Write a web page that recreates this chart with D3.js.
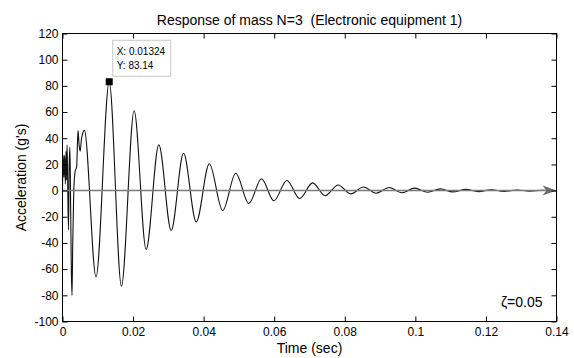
<!DOCTYPE html>
<html>
<head>
<meta charset="utf-8">
<script src="https://cdn.jsdelivr.net/npm/d3@7"></script>
<style>
  body { margin: 0; background: #fff; }
  text { font-family: "Liberation Sans", Arial, sans-serif; }
</style>
</head>
<body>
<div id="chart"></div>
<script>
// Données : instants (s) et accélération (g)
const time = [0, 0.0002, 0.0004, 0.0006, 0.0008, 0.0010, 0.0011, 0.0013, 0.0015, 0.0017,
  0.0019, 0.0021, 0.0023, 0.0025, 0.0027, 0.0029, 0.0032, 0.0036, 0.0040, 0.0044,
  0.0047, 0.0050, 0.0054, 0.0062, 0.0095, 0.01324, 0.0167, 0.0203, 0.0237, 0.0273,
  0.0308, 0.0343, 0.0379, 0.0416, 0.0454, 0.0491, 0.0528, 0.0564, 0.0599, 0.0636,
  0.0672, 0.0709, 0.0744, 0.0781, 0.0817, 0.0853, 0.0889, 0.0926, 0.0962, 0.0998,
  0.1035, 0.1071, 0.1106, 0.1143, 0.1179, 0.1215, 0.1251, 0.1288, 0.1324, 0.1360, 0.1400];
const accel = [0, 27, 10, 27, 5, 30, 8, 35, 0, -30,
  20, 33, -10, -60, -80, -40, 0, 15, 18, 46,
  35, 30, 40, 46, -66, 83.14, -73, 61, -45, 35,
  -30.5, 28.5, -24, 20.5, -15.3, 13.2, -9.8, 9, -7.8, 7.7,
  -6, 5.9, -3.9, 4.3, -2.5, 2.7, -2, 2.4, -1.7, 1.9,
  -1.3, 1.3, -1.0, 0.9, -0.8, 0.7, -0.6, 0.5, -0.4, 0.3, 0];

const xTicks = [0, 0.02, 0.04, 0.06, 0.08, 0.1, 0.12, 0.14];
const xTickLabels = ["0", "0.02", "0.04", "0.06", "0.08", "0.1", "0.12", "0.14"];
const yTicks = [-100, -80, -60, -40, -20, 0, 20, 40, 60, 80, 100, 120];

const dataTip = {t: 0.01324, v: 83.14};
const titleText = "Response of mass N=3  (Electronic equipment 1)";
const dampingText = "\u03B6=0.05";

const width = 574, height = 358;
const margin = ({top: 33.5, right: 17.5, bottom: 36.5, left: 62.5});

const svg = d3.select("#chart").append("svg")
    .attr("width", width)
    .attr("height", height);

const x = d3.scaleLinear()
    .domain([0, 0.14])
    .range([margin.left, width - margin.right]);

const y = d3.scaleLinear()
    .domain([-100, 120])
    .range([height - margin.bottom, margin.top]);

const data = time.map((t, i) => ({t: t, v: accel[i]}));

//Courbe de réponse
const line = d3.line()
    .x(d => x(d.t))
    .y(d => y(d.v))
    .curve(d3.curveMonotoneX);

svg.append("path")
    .datum(data)
    .attr("d", line)
    .attr("fill", "none")
    .attr("stroke", "#111")
    .attr("stroke-width", 1.1);

//Flèche grise sur l'axe zéro
const x0 = x(0), x1 = x(0.14), y0 = y(0);
svg.append("line")
    .attr("x1", x0).attr("x2", x1 - 8)
    .attr("y1", y0).attr("y2", y0)
    .attr("stroke", "#7a7a7a")
    .attr("stroke-width", 1.5);
svg.append("path")
    .attr("d", `M${x1},${y0} L${x1 - 14},${y0 - 5} L${x1 - 10},${y0} L${x1 - 14},${y0 + 5} Z`)
    .attr("fill", "#6a6a6a");

//Axes (graduations vers l'intérieur, style MATLAB)
svg.append("g")
    .attr("transform", `translate(0,${y(-100)})`)
    .call(d3.axisBottom(x).tickValues(xTicks).tickFormat((d, i) => xTickLabels[i])
      .tickSize(-5).tickPadding(6))
    .call(g => g.select(".domain").remove());

svg.append("g")
    .attr("transform", `translate(0,${y(120)})`)
    .call(d3.axisTop(x).tickValues(xTicks).tickFormat("").tickSize(-5))
    .call(g => g.select(".domain").remove());

svg.append("g")
    .attr("transform", `translate(${x(0)},0)`)
    .call(d3.axisLeft(y).tickValues(yTicks).tickFormat(d => String(d))
      .tickSize(-5).tickPadding(4))
    .call(g => g.select(".domain").remove());

svg.append("g")
    .attr("transform", `translate(${x(0.14)},0)`)
    .call(d3.axisRight(y).tickValues(yTicks).tickFormat("").tickSize(-5))
    .call(g => g.select(".domain").remove());

svg.selectAll(".tick text")
    .style("font-size", "12px")
    .attr("fill", "#000");
svg.selectAll(".tick line").attr("stroke", "#000");

//Cadre
svg.append("rect")
    .attr("x", x(0)).attr("y", y(120))
    .attr("width", x(0.14) - x(0))
    .attr("height", y(-100) - y(120))
    .attr("fill", "none")
    .attr("stroke", "#000")
    .attr("stroke-width", 1);

//Data tip
svg.append("rect")
    .attr("x", x(dataTip.t) - 3.5)
    .attr("y", y(dataTip.v) - 3.5)
    .attr("width", 7).attr("height", 7)
    .attr("fill", "#000");

const tipX = x(dataTip.t) + 3.5, tipY = y(dataTip.v) - 41.5;
svg.append("rect")
    .attr("x", tipX).attr("y", tipY)
    .attr("width", 58).attr("height", 36)
    .attr("fill", "#fff")
    .attr("stroke", "#c8c8c8");
svg.append("text")
    .attr("x", tipX + 4).attr("y", tipY + 15)
    .style("font-size", "10px")
    .text("X: " + dataTip.t);
svg.append("text")
    .attr("x", tipX + 4).attr("y", tipY + 29)
    .style("font-size", "10px")
    .text("Y: " + dataTip.v);

//Titres
svg.append("text")
    .attr("x", (x(0) + x(0.14)) / 2)
    .attr("y", 25)
    .style("font-size", "14px")
    .style("white-space", "pre")
    .style("text-anchor", "middle")
    .text(titleText);

svg.append("text")
    .attr("x", (x(0) + x(0.14)) / 2)
    .attr("y", 353)
    .style("font-size", "14px")
    .style("text-anchor", "middle")
    .text("Time (sec)");

svg.append("text")
    .attr("transform", `translate(26,${(y(120) + y(-100)) / 2}) rotate(-90)`)
    .style("font-size", "14px")
    .style("text-anchor", "middle")
    .text("Acceleration (g's)");

svg.append("text")
    .attr("x", x(0.14) - 14)
    .attr("y", 307)
    .style("font-size", "14px")
    .style("text-anchor", "end")
    .text(dampingText);
</script>
</body>
</html>
